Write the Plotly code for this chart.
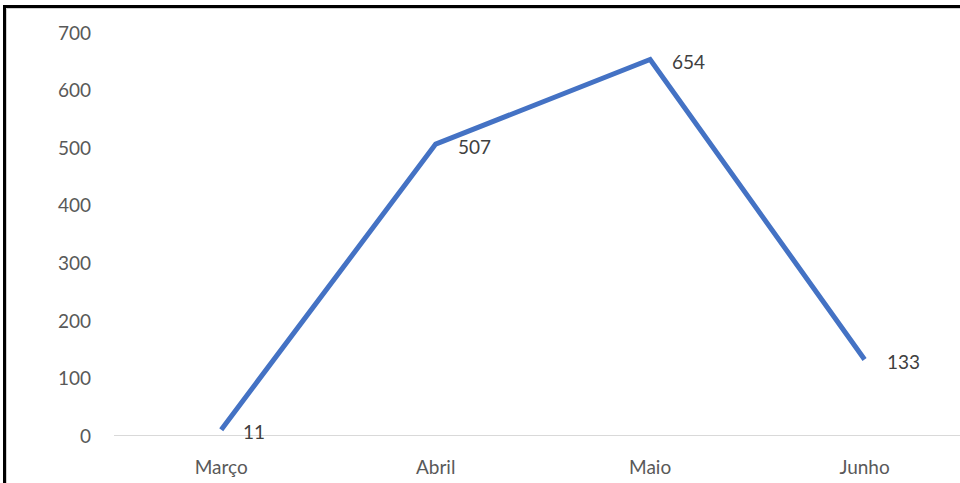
import plotly.graph_objects as go

categories = ["Março", "Abril", "Maio", "Junho"]
values = [11, 507, 654, 133]
y_ticks = [0, 100, 200, 300, 400, 500, 600, 700]

W, H = 960, 483
L, R, T, B = 114, 0, 33, 47
pw = W - L - R
ph = H - T - B

def px_x(p):
    return (p - L) / pw

def px_y(p):
    return 1 - (p - T) / ph

fig = go.Figure()
fig.add_trace(go.Scatter(
    x=categories, y=values, mode="lines",
    line=dict(color="#4472C4", width=5),
    hoverinfo="skip", cliponaxis=False,
))

for c, v in zip(categories, values):
    fig.add_annotation(
        x=c, y=v, text=str(v), showarrow=False,
        xanchor="left", yanchor="middle", xshift=20, yshift=-2,
        font=dict(family="Lato, Carlito, Calibri, sans-serif", size=19, color="#404040"),
    )

# outer border (top and left visible)
fig.add_shape(type="line", xref="paper", yref="paper",
              x0=px_x(4.5), x1=px_x(W + 5), y0=px_y(6.5), y1=px_y(6.5),
              line=dict(color="#000000", width=3))
fig.add_shape(type="line", xref="paper", yref="paper",
              x0=px_x(4.5), x1=px_x(4.5), y0=px_y(5), y1=px_y(H + 5),
              line=dict(color="#000000", width=3))
fig.add_shape(type="line", xref="paper", yref="paper",
              x0=px_x(6.5), x1=px_x(W + 5), y0=px_y(8.5), y1=px_y(8.5),
              line=dict(color="#d0d0d0", width=1))
fig.add_shape(type="line", xref="paper", yref="paper",
              x0=px_x(6.5), x1=px_x(6.5), y0=px_y(8.5), y1=px_y(H + 5),
              line=dict(color="#d0d0d0", width=1))

fig.update_layout(
    width=W, height=H,
    margin=dict(l=L, r=R, t=T, b=B, pad=0),
    paper_bgcolor="white", plot_bgcolor="white",
    showlegend=False,
    font=dict(family="Lato, Carlito, Calibri, sans-serif", size=19, color="#595959"),
    xaxis=dict(
        type="category", range=[-0.5, 3.445],
        showgrid=False, zeroline=False,
        showline=False, ticks="", ticklabelstandoff=18,
        tickfont=dict(size=19, color="#595959"),
        fixedrange=True,
    ),
    yaxis=dict(
        range=[0, 700], tickvals=y_ticks,
        showgrid=False, zeroline=False, showline=False, ticks="",
        ticklabelstandoff=22,
        tickfont=dict(size=19, color="#595959"),
        fixedrange=True,
    ),
)

# baseline (y = 0) axis line
fig.add_shape(type="line", xref="paper", yref="y",
              x0=0, x1=1, y0=0, y1=0,
              line=dict(color="#d9d9d9", width=2), layer="below")

fig.write_html("out.html")
